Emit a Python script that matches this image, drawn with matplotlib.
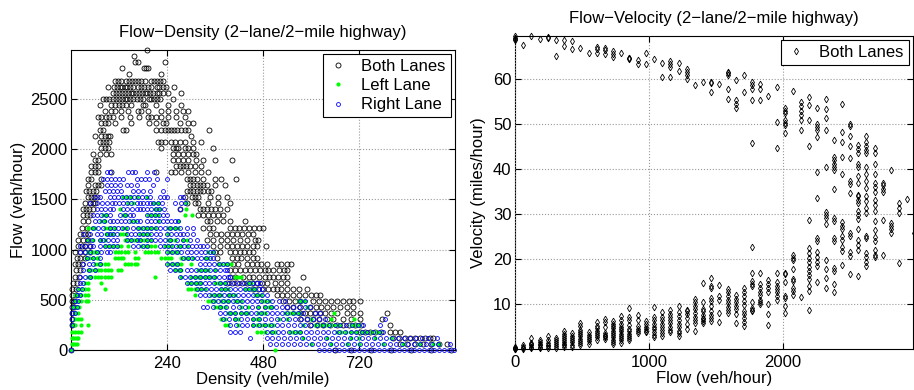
import numpy as np
import matplotlib.pyplot as plt

plt.rcParams['font.family'] = ['Liberation Sans', 'DejaVu Sans']
plt.rcParams['font.size'] = 12

# flow rows of the flow-density plot (veh/hour), bottom to top
flow_levels = [0, 61, 122, 183, 244, 305, 366, 427, 488, 549, 610, 671, 732, 793, 854,
               915, 976, 1037, 1098, 1159, 1220, 1281, 1342, 1403, 1464, 1525, 1586,
               1647, 1708, 1769, 1830, 1891, 1952, 2013, 2074, 2135, 2196, 2257, 2318,
               2379, 2440, 2501, 2562, 2623, 2684, 2745, 2806, 2867, 2928, 2989]

# densities (veh/mile) seen on each flow row, both lanes together
both_density_rows = [
    [0, 660, 700, 750, 800, 850, 900, 950],
    [822, 840, 860, 880, 900, 920, 940],
    [806, 820, 835, 848, 860, 872, 885, 898, 906],
    [722, 735, 748, 760, 775, 797, 810, 822],
    [2, 598, 615, 630, 648, 665, 680, 695, 710, 725, 798],
    [2, 572, 590, 605, 620, 640, 656, 680, 700, 722, 777],
    [2, 572, 585, 598, 610, 623, 636, 650, 665, 690, 705, 722, 790],
    [2, 8, 540, 556, 572, 598, 612, 625, 640, 656, 672, 690, 705],
    [2, 8, 530, 545, 560, 572, 606, 620, 635, 650, 665, 680, 694, 705, 723],
    [3, 12, 515, 527, 540, 556, 570, 585, 600, 612, 622],
    [3, 12, 456, 468, 481, 493, 505, 515, 526, 540, 555, 570, 590],
    [6, 16, 390, 402, 414, 427, 440, 452, 464, 477, 490, 510, 525, 540],
    [10, 20, 398, 410, 430, 444, 456, 470, 485, 495, 506, 517, 530, 540, 581],
    [12, 22, 398, 410, 422, 435, 448, 460, 473, 485, 493, 506, 519, 532, 540],
    [10, 18, 27, 406, 418, 440, 452, 464, 476, 489, 514, 526, 540, 551],
    [14, 22, 35, 364, 402, 414, 425, 440, 454, 464],
    [10, 22, 35, 48, 360, 372, 398, 410, 422, 433, 445, 456],
    [18, 27, 35, 48, 356, 372, 389, 402, 414, 428, 440, 455, 464, 487],
    [18, 29, 43, 340, 355, 376, 389, 406, 422, 440, 460, 468],
    [23, 35, 43, 348, 362, 376, 389, 402, 414, 428, 443, 456],
    [27, 39, 331, 345, 356, 398, 410, 420, 432, 445, 458, 470, 481],
    [31, 43, 340, 348, 364, 380, 398, 435],
    [31, 40, 48, 318, 330, 343, 355, 368, 380],
    [31, 38, 46, 56, 272, 322, 330, 340, 350, 360, 372, 389],
    [35, 48, 55, 60, 290, 310, 318, 343, 368, 398],
    [43, 50, 57, 64, 285, 302, 310, 318, 347, 368, 389],
    [38, 46, 55, 63, 289, 297, 305, 314, 322, 330, 343, 351],
    [43, 59, 68, 76, 297, 305, 314, 322, 330, 339, 359, 384],
    [43, 51, 76, 289, 297, 305, 314, 330, 359, 376, 413],
    [51, 59, 68, 101, 213, 251, 259, 276, 293, 310, 326, 343],
    [51, 59, 68, 263, 272, 280, 288, 297, 310, 326],
    [59, 68, 255, 268, 280, 293, 313, 330, 360, 403],
    [55, 72, 88, 101, 255, 268, 280, 293, 305, 313],
    [76, 84, 92, 226, 255, 263, 268, 285, 293, 305, 355],
    [72, 80, 88, 96, 217, 226, 234, 250, 259, 272, 285, 305, 326],
    [59, 76, 84, 92, 97, 301],
    [72, 80, 130, 138, 213, 226, 234, 242, 250, 258, 266, 276, 284, 293, 344],
    [76, 84, 92, 109, 151, 196, 213, 230, 238, 272, 293, 305],
    [68, 76, 88, 96, 105, 126, 147, 171, 193, 201, 213, 226, 243, 263, 284],
    [84, 101, 109, 125, 142, 168, 176, 193, 226, 242, 263, 280, 293],
    [72, 101, 110, 120, 128, 138, 150, 180, 186, 213, 242, 274],
    [80, 88, 96, 105, 112, 119, 127, 134, 141, 148, 156, 165, 173, 181, 194, 201, 208, 215, 222, 255],
    [105, 113, 121, 128, 135, 142, 149, 156, 163, 170, 177, 184, 191, 198, 205, 214, 221, 230, 243, 276],
    [92, 107, 114, 122, 128, 134, 141, 148, 155, 168, 174, 183, 193, 200, 214, 221, 229, 238, 258],
    [110, 117, 125, 138, 146, 153, 160, 168, 176, 184, 201, 208, 215, 222, 230],
    [144, 226],
    [128, 183, 188, 192],
    [160, 167, 234],
    [157],
    [189],
]

# left lane, rows from flow 0 upward
left_density_rows = [
    [0, 511],
    [2, 6, 10, 14, 600, 650, 690, 720, 780, 830, 870, 905, 920],
    [2, 6, 10, 14, 18, 580, 640, 700, 720, 760, 800],
    [2, 10, 18, 26, 464, 475, 485, 500, 510, 547, 556, 565, 572, 664, 675, 688, 700, 712, 725, 737, 750, 762, 772],
    [6, 10, 26, 43, 385, 393, 418, 456, 466, 476, 486, 496, 506, 581, 611, 620, 630, 640, 650, 660, 669, 700, 710, 720],
    [10, 18, 26, 376, 385, 410, 418, 456, 464, 470, 520, 540, 600, 650, 707],
    [10, 18, 393, 401, 410, 426, 434, 443, 468, 477, 485, 536, 545, 553, 561, 569, 657],
    [6, 14, 20, 359, 368, 376, 385, 426, 443, 468, 485, 494, 502, 590],
    [10, 18, 26, 38, 42, 343, 351, 359, 376, 385, 393, 410, 418, 426, 477, 485, 494, 569, 578, 586],
    [10, 18, 26, 34, 42, 309, 351, 359, 368, 376, 393, 401, 410, 460, 468, 476],
    [18, 26, 34, 42, 84, 293, 301, 310, 318, 326, 334, 376, 385, 393, 434, 443, 452, 460],
    [34, 42, 76, 293, 301, 310, 318, 326, 359, 368, 376, 385, 443, 450],
    [43, 51, 59, 68, 76, 84, 92, 101, 209, 276, 301, 310, 318, 326, 335, 343, 351, 359, 410, 418, 426],
    [43, 51, 59, 68, 76, 84, 92, 101, 118, 126, 260, 268, 276, 318, 326, 335, 343, 360],
    [59, 68, 76, 84, 92, 134, 143, 151, 159, 166, 243, 252, 260, 268, 276, 300, 368, 376, 385, 393, 401],
    [38, 46, 55, 64, 68, 109, 118, 126, 130, 159, 168, 226, 235, 243, 251, 276, 285, 293, 306, 334, 343],
    [43, 52, 60, 68, 109, 118, 126, 135, 143, 159, 184, 193, 201, 209, 218, 243, 251, 260, 268, 343, 356],
    [84, 92, 100, 108, 117, 126, 143, 176, 184, 193, 201, 209, 234, 242, 251, 268, 276, 289],
    [43, 55, 72, 84, 134, 142, 150, 158, 166, 174, 182, 190, 201, 243, 251, 260, 280, 290],
    [88, 96, 104, 122, 130, 138, 172, 180, 188, 196, 243],
    [43, 52, 60, 84, 92, 101, 109, 130, 138, 168, 176, 184, 193, 201, 209, 243, 251, 260, 268],
    [76, 84, 151, 159, 218, 268],
    [80, 88, 130, 138, 193, 201, 210, 218, 285, 302],
    [122, 209, 222, 288],
    [143, 155, 208, 217, 288],
    [131, 140, 150, 165, 189],
]

# right lane, rows from flow 0 upward
right_density_rows = [
    [0, 620, 633, 645, 658, 670, 682, 695, 707, 720, 732, 745, 757, 770, 782, 795, 807, 820,
     832, 845, 857, 870, 882, 895, 907, 920, 932, 945, 957],
    [497, 512, 527, 542, 557, 572, 587, 602, 617, 632, 647, 662, 677, 692, 707, 722, 737, 752,
     767, 782, 797, 812, 827, 842, 857, 872, 887, 902, 917, 947],
    [447, 489, 503, 518, 533, 548, 563, 578, 593, 608, 623, 638, 653, 668, 683, 698, 713, 728,
     743, 758, 773, 788, 803, 818, 833, 848, 863, 878, 892, 914],
    [398, 410, 422, 489, 503, 517, 531, 545, 559, 573, 587, 601, 615, 629, 643, 657, 671, 685,
     699, 713, 727, 741, 755, 769, 781],
    [2, 398, 412, 427, 441, 456, 470, 485, 499, 514, 528, 543, 557, 572, 586, 601, 615, 630,
     644, 659, 673, 688, 702, 717, 731, 772],
    [2, 381, 396, 411, 426, 441, 456, 471, 486, 501, 516, 531, 546, 561, 576, 591, 606, 621, 636, 786],
    [2, 10, 372, 385, 398, 411, 424, 437, 450, 463, 476, 489, 502, 515, 528, 541, 554, 567, 580, 610, 622],
    [6, 14, 331, 339, 356, 372, 388, 404, 420, 436, 452, 468, 484, 500, 512, 527, 540, 555, 570, 585, 598],
    [10, 18, 356, 368, 380, 392, 404, 416, 428, 440, 452, 464, 476, 490, 502, 520, 535, 572, 585],
    [14, 22, 322, 334, 346, 358, 370, 382, 394, 406, 418, 430, 442, 454, 466, 478, 489],
    [18, 27, 314, 326, 338, 350, 362, 374, 386, 398, 410, 422, 434, 446, 458, 470, 478],
    [23, 31, 289, 300, 312, 322, 334, 346, 358, 372, 384, 396, 408, 420, 432, 444, 456, 464, 472],
    [23, 35, 48, 272, 285, 298, 310, 322, 334, 346, 358, 370, 382, 392, 398],
    [31, 44, 60, 247, 260, 272, 289, 300, 312, 324, 336, 348, 360, 372, 384, 389],
    [31, 44, 56, 72, 239, 252, 264, 322, 334, 346, 358, 370, 380, 389],
    [39, 56, 72, 281, 292, 302, 314, 326, 338, 348, 356],
    [23, 35, 48, 64, 76, 89, 98, 239, 252, 264, 276, 289, 300, 312, 324, 336, 348, 356],
    [23, 35, 48, 56, 72, 84, 94, 106, 114, 156, 168, 180, 189, 222, 232, 242, 252, 262, 272,
     282, 292, 302, 312, 322, 331, 339],
    [39, 52, 72, 81, 92, 106, 114, 139, 150, 164, 172, 190, 200, 210, 222, 235, 247, 264, 280, 298, 314],
    [31, 48, 64, 76, 89, 98, 106, 116, 139, 150, 160, 170, 180, 190, 200, 212, 222, 239, 250,
     262, 272, 281, 290, 306],
    [56, 68, 80, 98, 108, 118, 128, 140, 156, 168, 180, 190, 200, 212, 222, 234, 248, 260, 272, 289, 306],
    [60, 70, 82, 98, 106, 116, 126, 136, 146, 156, 164, 172, 190, 200, 210, 220, 230, 240, 250, 260, 268],
    [56, 66, 76, 88, 98, 123, 135, 148, 156, 190, 200, 210, 220, 230, 239],
    [64, 75, 86, 98, 106, 131, 140, 152, 164, 172, 180, 190, 200, 212, 220, 232, 272],
    [48, 64, 77, 90, 102, 110, 120, 130, 140, 150, 164, 172, 181, 190, 198, 206, 218, 228, 260, 275, 285],
    [60, 72, 98, 108, 118, 128, 138, 148, 158, 168, 178, 188, 198, 222, 232, 239, 272, 281],
    [85, 95, 106, 116, 125, 156, 168, 180, 197, 231],
    [89, 100, 110, 122, 139, 150, 164, 206],
    [81, 90, 100, 110, 120, 131, 164, 175, 185, 196, 214, 239],
    [89, 98, 143, 152, 160, 189, 207],
]

# flow-velocity plot: flow columns (veh/hour) and the velocities (miles/hour) seen on each
fv_flow = [0, 61, 122, 183, 244, 305, 366, 427, 488, 549, 610, 671, 732, 793, 854, 915, 976,
           1037, 1098, 1159, 1220, 1281, 1342, 1403, 1464, 1525, 1586, 1647, 1708, 1769, 1830,
           1891, 1952, 2013, 2074, 2135, 2196, 2257, 2318, 2379, 2440, 2501, 2562, 2623, 2684,
           2745, 2806, 2867, 2928, 2978]
fv_velocity = [
    [69.5, 69.2, 68.9, 68.7, 0.0, 0.1, 0.2, 0.3, 0.5],
    [67.6, 0.1, 0.3, 0.5, 0.8],
    [69.5, 0.2, 0.5, 0.8, 1.1, 1.4, 2.5],
    [69.0, 0.2, 0.5, 0.8, 1.1, 1.5, 2.0],
    [69.4, 69.1, 0.2, 0.6, 1.0, 1.4, 1.9, 2.8],
    [68.8, 65.1, 0.3, 0.7, 1.1, 1.5, 1.9, 2.4],
    [68.8, 67.3, 0.4, 0.8, 1.2, 1.6, 2.0, 2.4, 2.8, 3.4, 4.0],
    [68.4, 66.7, 0.5, 1.0, 1.5, 2.0, 2.5, 3.0, 3.5],
    [67.0, 0.8, 1.3, 1.8, 2.3, 2.8, 3.3, 3.8, 4.3, 5.1, 5.8],
    [65.9, 1.2, 1.7, 2.2, 2.7, 3.2, 3.8],
    [67.2, 66.6, 65.9, 2.1, 2.6, 3.1, 3.6, 4.1, 4.6, 5.2, 5.9],
    [67.0, 66.4, 65.7, 2.2, 2.6, 2.9, 3.2, 3.6, 5.0, 6.0, 6.7],
    [66.2, 65.7, 65.0, 1.1, 1.6, 2.1, 2.6, 3.1, 3.6, 4.1, 4.6, 5.1, 5.6, 6.2],
    [65.9, 1.4, 1.9, 2.4, 2.9, 3.4, 3.9, 4.4, 5.0, 5.6, 6.4, 7.3],
    [64.8, 64.6, 64.4, 1.9, 2.4, 2.9, 3.4, 3.9, 4.4, 5.4, 6.4, 7.2, 9.1],
    [64.2, 63.3, 3.6, 4.0, 4.4, 5.2, 6.5, 7.6],
    [65.9, 63.3, 3.7, 4.1, 4.5, 5.0, 5.5, 6.2],
    [64.4, 2.6, 3.2, 3.8, 4.4, 5.0, 5.6, 6.4, 7.2, 9.4],
    [63.6, 60.5, 3.0, 3.6, 4.2, 4.9, 5.6, 6.4, 7.1, 8.2],
    [64.0, 63.3, 62.7, 60.5, 3.7, 4.3, 5.0, 5.7, 6.4, 7.1, 7.8, 8.7],
    [63.5, 61.9, 3.0, 3.5, 4.0, 4.8, 5.6, 6.5, 7.4, 8.2, 9.6],
    [62.2, 61.6, 60.9, 60.1, 4.4, 5.6, 7.0, 7.8, 8.4, 8.7],
    [58.6, 4.0, 5.7, 6.5, 7.2, 8.0, 8.8, 9.6, 10.5, 11.1],
    [59.4, 14.6, 10.5, 9.0, 8.4, 7.6, 7.0, 6.6, 6.2, 5.7],
    [59.4, 59.2, 57.2, 15.9, 14.0, 13.6, 11.4, 10.6, 9.6, 8.4, 7.6, 6.8, 6.2],
    [58.9, 14.2, 11.8, 11.0, 8.1, 6.0],
    [61.7, 61.4, 61.0, 57.9, 55.7, 13.3, 12.6, 11.8, 11.0, 10.2, 9.4, 8.7, 8.1],
    [59.8, 55.3, 54.4, 53.5, 12.1, 11.2, 10.4, 9.6, 8.8, 7.7, 5.8],
    [60.9, 57.2, 13.6, 12.6, 11.8, 10.7, 9.8, 8.4, 7.7, 6.8, 5.9, 5.1],
    [59.4, 58.6, 57.9, 55.3, 45.7, 22.7, 17.0, 15.1, 14.4, 13.9, 10.4, 9.1, 8.7, 8.4],
    [59.0, 57.9, 55.3, 16.8, 14.4, 13.5, 12.7, 12.1, 11.0, 10.4, 9.9],
    [56.2, 15.3, 14.4, 13.6, 12.6, 9.9, 7.7, 5.3],
    [58.3, 50.4, 44.8, 16.8, 14.8, 14.1, 13.4, 12.6, 11.8, 11.0],
    [53.5, 53.0, 52.4, 50.9, 50.3, 49.8, 48.1, 17.0, 16.6, 14.8, 11.8, 11.4, 9.6, 7.9],
    [57.3, 20.8, 20.3, 19.9, 17.8, 15.6, 15.1, 13.6, 12.8, 11.9],
    [55.0, 54.0, 53.0, 52.0, 51.0, 48.7, 11.6],
    [56.1, 54.2, 51.0, 45.1, 28.7, 22.5, 21.4, 20.3, 19.3, 18.3, 17.3, 16.4, 15.5, 14.0, 12.9, 8.7],
    [53.7, 50.0, 49.3, 48.7, 47.2, 39.4, 33.6, 24.7, 24.0, 21.5, 20.5, 19.4, 18.4, 14.9],
    [55.6, 53.3, 51.3, 48.7, 40.5, 30.4, 29.8, 29.2, 27.7, 19.9, 17.8, 15.9, 13.6],
    [46.4, 42.7, 42.0, 41.2, 40.5, 39.7, 35.5, 29.2, 28.4, 24.7, 24.0, 18.1, 17.4, 14.4, 12.6],
    [54.4, 48.3, 46.1, 42.7, 38.9, 28.2, 27.4, 26.6, 25.1, 24.3, 22.6, 21.9, 18.6],
    [50.1, 49.5, 47.4, 45.1, 42.5, 37.4, 36.6, 34.6, 25.9, 25.1, 21.5, 20.7, 16.7],
    [45.4, 44.5, 43.6, 41.2, 40.5, 38.4, 36.9, 34.3, 34.0, 33.2, 32.5, 30.6, 29.7, 28.8, 26.6,
     24.3, 23.2, 22.1, 16.2],
    [47.4, 46.1, 45.1, 44.3, 43.6, 40.5, 39.0, 37.4, 35.9, 34.0, 33.0, 31.4, 30.3, 25.1, 24.7,
     21.4, 20.4, 19.4, 18.4],
    [44.8, 43.6, 41.2, 39.0, 36.9, 36.1, 35.0, 33.2, 32.0, 30.6, 28.4, 26.5, 25.0, 24.0, 22.0,
     21.0, 20.5],
    [36.9, 36.4, 35.6, 35.0, 28.7, 20.9],
    [39.8, 28.1, 27.4, 26.6, 25.9],
    [32.5, 31.4, 30.3, 19.2],
    [33.3],
    [25.9],
]


def unroll(levels, rows):
    xs, ys = [], []
    for lvl, row in zip(levels, rows):
        xs += row
        ys += [lvl] * len(row)
    return xs, ys


both_x, both_y = unroll(flow_levels, both_density_rows)
left_x, left_y = unroll(flow_levels, left_density_rows)
right_x, right_y = unroll(flow_levels, right_density_rows)
fv_y, fv_x = unroll(fv_flow, fv_velocity)

fig = plt.figure(figsize=(9.14, 3.9), dpi=100)
ax1 = fig.add_axes([0.0777, 0.1026, 0.4201, 0.7692])
ax2 = fig.add_axes([0.5635, 0.1051, 0.4354, 0.8026])

ax1.plot(both_x, both_y, 'o', mfc='none', mec='k', ms=3.6, mew=0.6, label='Both Lanes', clip_on=False)
ax1.plot(left_x, left_y, '.', color='#00ff00', ms=4, label='Left Lane', clip_on=False)
ax1.plot(right_x, right_y, 'o', mfc='none', mec='#0000ff', ms=2.8, mew=0.6, label='Right Lane', clip_on=False)
ax1.set_xlim(0, 960)
ax1.set_ylim(0, 2989)
ax1.set_xticks([240, 480, 720])
ax1.set_yticks([0, 500, 1000, 1500, 2000, 2500])
ax1.set_xlabel('Density (veh/mile)', labelpad=1)
ax1.set_ylabel('Flow (veh/hour)', labelpad=3)
ax1.set_title('Flow\u2212Density (2\u2212lane/2\u2212mile highway)', fontsize=12, pad=9)

ax2.plot(fv_x, fv_y, 'd', mfc='none', mec='k', ms=3.4, mew=0.6, label='Both Lanes', clip_on=False)
ax2.set_xlim(0, 2970)
ax2.set_ylim(0, 69.6)
ax2.set_xticks([0, 1000, 2000])
ax2.set_yticks([10, 20, 30, 40, 50, 60])
ax2.set_xlabel('Flow (veh/hour)', labelpad=1)
ax2.set_ylabel('Velocity (miles/hour)', labelpad=5)
ax2.set_title('Flow\u2212Velocity (2\u2212lane/2\u2212mile highway)', fontsize=12, pad=9)

for ax in (ax1, ax2):
    ax.grid(True, ls=':', color='#999999', lw=0.8)
    ax.tick_params(direction='in', top=True, right=True, length=4, width=0.8,
                   labelsize=12, pad=4)
    ax.tick_params(axis='y', pad=2.5)
    for s in ax.spines.values():
        s.set_linewidth(0.8)
        s.set_zorder(1)
    leg = ax.legend(loc='upper right', fancybox=False, edgecolor='k', framealpha=1,
                    borderaxespad=0.25, handlelength=1.2, handletextpad=0.8,
                    labelspacing=0.25, borderpad=0.3, fontsize=12)
    leg.get_frame().set_linewidth(0.8)
    leg.set_zorder(5)

fig.savefig('out.png', dpi=100)
